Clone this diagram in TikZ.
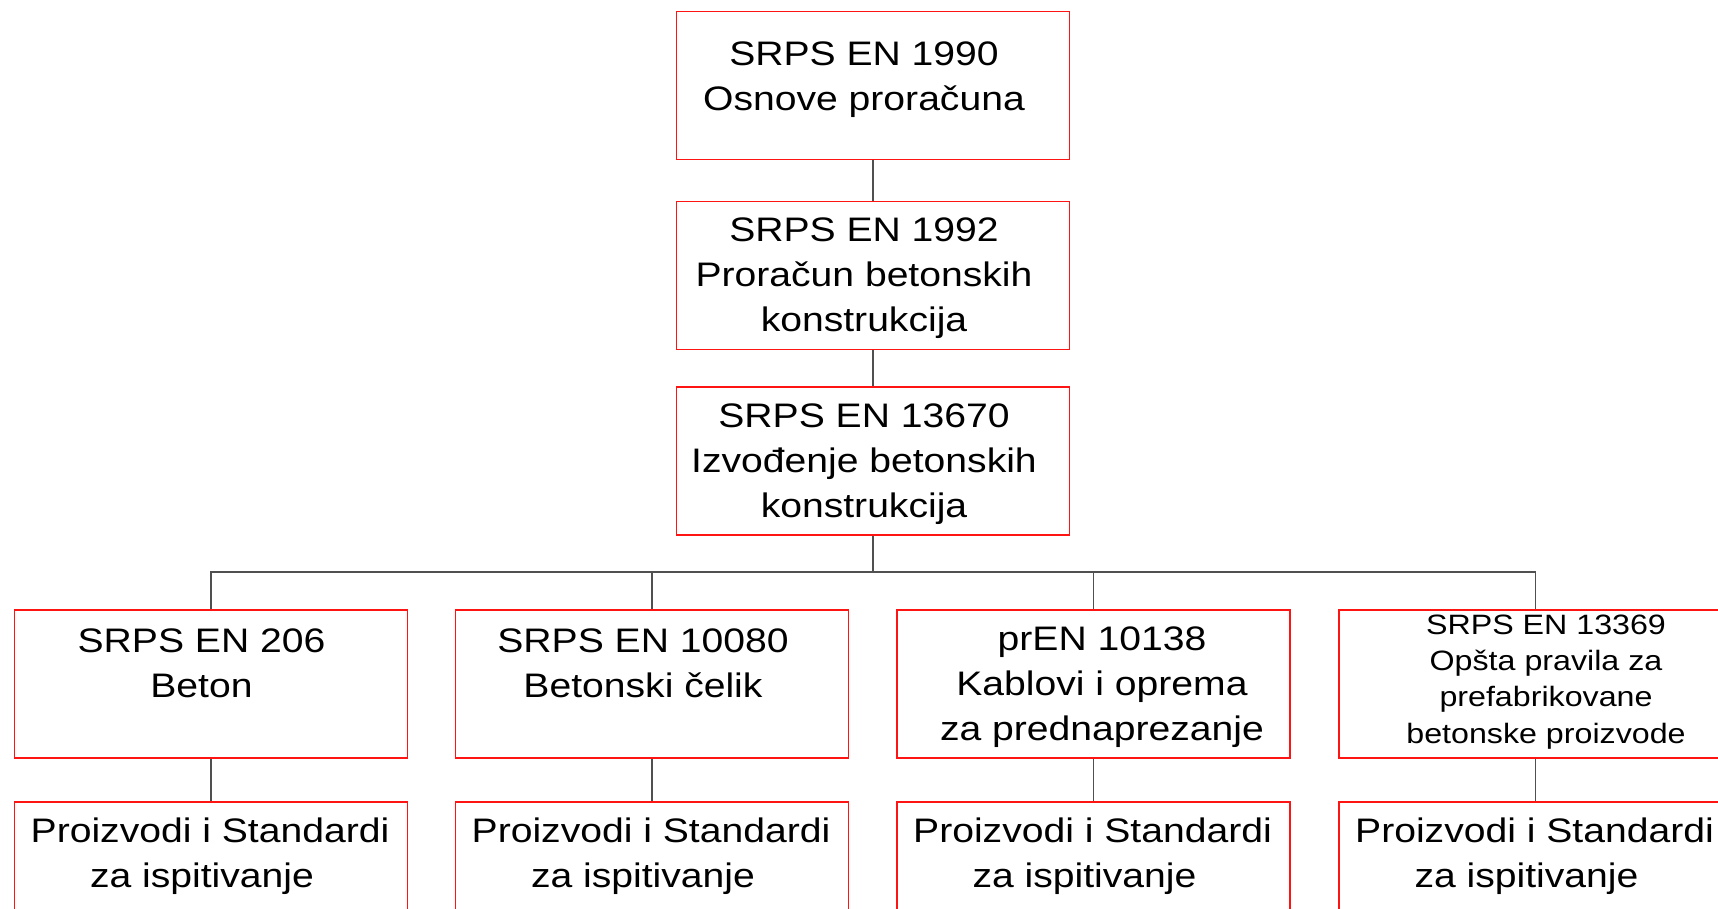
\documentclass[tikz,border=0pt]{standalone}
\usepackage{fontspec}
\setmainfont{Liberation Sans}[FakeStretch=1.15]
\definecolor{boxred}{RGB}{255,20,20}
\definecolor{conngray}{RGB}{80,80,80}
\tikzset{
  box/.style={draw=boxred, line width=1.4pt, minimum width=393pt, minimum height=148pt, inner sep=0pt},
  conn/.style={draw=conngray, line width=1.4pt},
  bigtxt/.style={font=\fontsize{34}{45}\selectfont, align=center, anchor=north, inner sep=0pt},
  smalltxt/.style={font=\fontsize{28}{36.3}\selectfont, align=center, anchor=north, inner sep=0pt}
}
\begin{document}
\begin{tikzpicture}[x=1pt,y=-1pt]
\useasboundingbox (0,0) rectangle (1718,909);
\clip (0,0) rectangle (1718,909);
% central column
\node[box] (B0) at (873,85.5) {};
\node[box] (B1) at (873,275.5) {};
\node[box] (B2) at (873,461) {};
\node[bigtxt] (T0) at (864,41.5) {SRPS EN 1990\\Osnove proračuna};
\node[bigtxt] (T1) at (864,217.5) {SRPS EN 1992\\Proračun betonskih\\konstrukcija};
\node[bigtxt] (T2) at (864,403.5) {SRPS EN 13670\\Izvođenje betonskih\\konstrukcija};
% second row
\node[box] (A1) at (211,684) {};
\node[box] (A2) at (652,684) {};
\node[box] (A3) at (1093.5,684) {};
\node[box] (A4) at (1535.5,684) {};
\node[bigtxt] (S1) at (201.5,628.5) {SRPS EN 206\\Beton};
\node[bigtxt] (S2) at (643,628.5) {SRPS EN 10080\\Betonski čelik};
\node[bigtxt] (S3) at (1102,627) {prEN 10138\\Kablovi i oprema\\za prednaprezanje};
\node[smalltxt] (S4) at (1546,614.5) {SRPS EN 13369\\Opšta pravila za\\prefabrikovane\\betonske proizvode};
% third row
\node[box] (P1) at (211,876) {};
\node[box] (P2) at (652,876) {};
\node[box] (P3) at (1093.5,876) {};
\node[box] (P4) at (1535.5,876) {};
\node[bigtxt] (Q1) at (210,817.5) {Proizvodi i Standardi\\za ispitivanje\rule{16pt}{0pt}};
\node[bigtxt] (Q2) at (651,817.5) {Proizvodi i Standardi\\za ispitivanje\rule{16pt}{0pt}};
\node[bigtxt] (Q3) at (1092.5,817.5) {Proizvodi i Standardi\\za ispitivanje\rule{16pt}{0pt}};
\node[bigtxt] (Q4) at (1534.5,817.5) {Proizvodi i Standardi\\za ispitivanje\rule{16pt}{0pt}};
% connectors
\coordinate (bus) at (873,572);
\draw[conn] (B0.south) -- (B1.north);
\draw[conn] (B1.south) -- (B2.north);
\draw[conn] (B2.south) -- (bus);
\draw[conn] (A1.north) |- (bus) -| (A4.north);
\draw[conn] (A2.north) -- (A2.north |- bus);
\draw[conn] (A3.north) -- (A3.north |- bus);
\draw[conn] (A1.south) -- (P1.north);
\draw[conn] (A2.south) -- (P2.north);
\draw[conn] (A3.south) -- (P3.north);
\draw[conn] (A4.south) -- (P4.north);
\end{tikzpicture}
\end{document}
